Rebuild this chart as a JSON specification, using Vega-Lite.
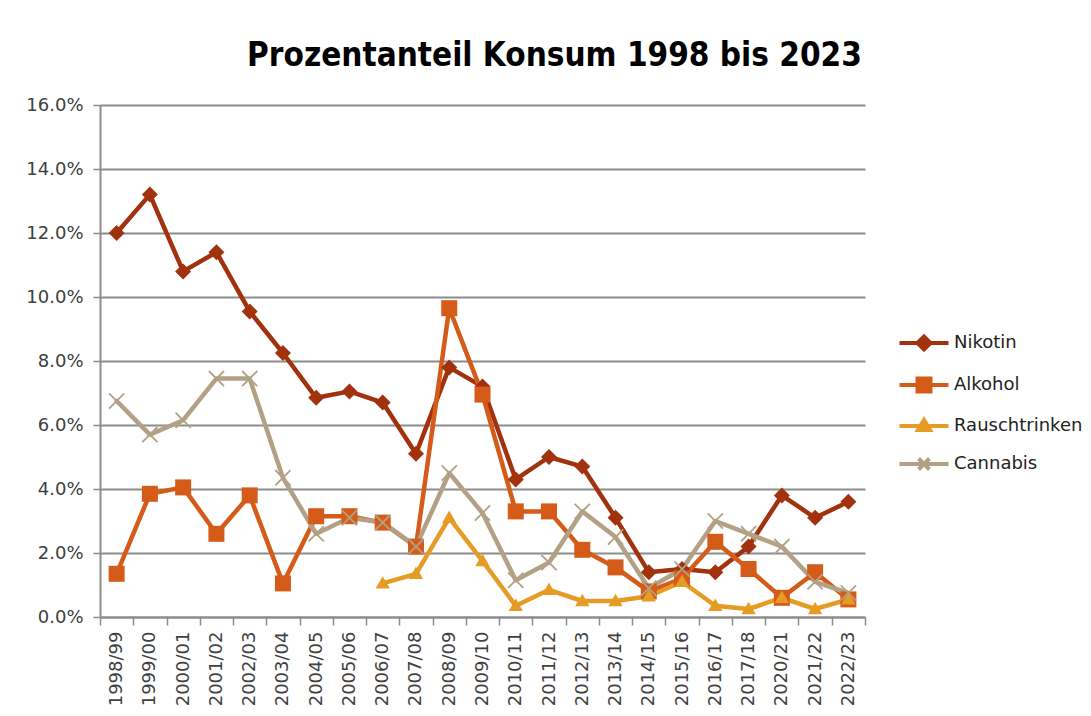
{
  "$schema": "https://vega.github.io/schema/vega-lite/v6.json",
  "autosize": {"type": "none"},
  "padding": {"left": 100, "top": 105, "right": 226, "bottom": 99},
  "width": 765,
  "height": 512,
  "background": "white",
  "title": {
    "text": "Prozentanteil Konsum 1998 bis 2023",
    "font": "DejaVu Sans Condensed, Liberation Sans Narrow, sans-serif",
    "fontSize": 33,
    "fontWeight": "bold",
    "color": "#000000",
    "anchor": "middle",
    "frame": "group",
    "baseline": "alphabetic",
    "offset": 41,
    "dx": 72,
    "dy": 44
  },
  "config": {
    "view": {"stroke": null},
    "font": "DejaVu Sans"
  },
  "data": {
    "values": [
      {"s": "1998/99", "series": "Nikotin", "v": 12.0},
      {"s": "1999/00", "series": "Nikotin", "v": 13.2},
      {"s": "2000/01", "series": "Nikotin", "v": 10.8},
      {"s": "2001/02", "series": "Nikotin", "v": 11.4},
      {"s": "2002/03", "series": "Nikotin", "v": 9.55},
      {"s": "2003/04", "series": "Nikotin", "v": 8.25},
      {"s": "2004/05", "series": "Nikotin", "v": 6.85},
      {"s": "2005/06", "series": "Nikotin", "v": 7.05},
      {"s": "2006/07", "series": "Nikotin", "v": 6.7},
      {"s": "2007/08", "series": "Nikotin", "v": 5.1},
      {"s": "2008/09", "series": "Nikotin", "v": 7.8},
      {"s": "2009/10", "series": "Nikotin", "v": 7.2},
      {"s": "2010/11", "series": "Nikotin", "v": 4.3},
      {"s": "2011/12", "series": "Nikotin", "v": 5.0},
      {"s": "2012/13", "series": "Nikotin", "v": 4.7},
      {"s": "2013/14", "series": "Nikotin", "v": 3.1},
      {"s": "2014/15", "series": "Nikotin", "v": 1.4},
      {"s": "2015/16", "series": "Nikotin", "v": 1.5},
      {"s": "2016/17", "series": "Nikotin", "v": 1.4},
      {"s": "2017/18", "series": "Nikotin", "v": 2.2},
      {"s": "2020/21", "series": "Nikotin", "v": 3.8},
      {"s": "2021/22", "series": "Nikotin", "v": 3.1},
      {"s": "2022/23", "series": "Nikotin", "v": 3.6},
      {"s": "1998/99", "series": "Alkohol", "v": 1.35},
      {"s": "1999/00", "series": "Alkohol", "v": 3.85},
      {"s": "2000/01", "series": "Alkohol", "v": 4.05},
      {"s": "2001/02", "series": "Alkohol", "v": 2.6},
      {"s": "2002/03", "series": "Alkohol", "v": 3.8},
      {"s": "2003/04", "series": "Alkohol", "v": 1.05},
      {"s": "2004/05", "series": "Alkohol", "v": 3.15},
      {"s": "2005/06", "series": "Alkohol", "v": 3.15},
      {"s": "2006/07", "series": "Alkohol", "v": 2.95},
      {"s": "2007/08", "series": "Alkohol", "v": 2.2},
      {"s": "2008/09", "series": "Alkohol", "v": 9.65},
      {"s": "2009/10", "series": "Alkohol", "v": 6.95},
      {"s": "2010/11", "series": "Alkohol", "v": 3.3},
      {"s": "2011/12", "series": "Alkohol", "v": 3.3},
      {"s": "2012/13", "series": "Alkohol", "v": 2.1},
      {"s": "2013/14", "series": "Alkohol", "v": 1.55},
      {"s": "2014/15", "series": "Alkohol", "v": 0.8},
      {"s": "2015/16", "series": "Alkohol", "v": 1.2},
      {"s": "2016/17", "series": "Alkohol", "v": 2.35},
      {"s": "2017/18", "series": "Alkohol", "v": 1.5},
      {"s": "2020/21", "series": "Alkohol", "v": 0.6},
      {"s": "2021/22", "series": "Alkohol", "v": 1.4},
      {"s": "2022/23", "series": "Alkohol", "v": 0.55},
      {"s": "2006/07", "series": "Rauschtrinken", "v": 1.05},
      {"s": "2007/08", "series": "Rauschtrinken", "v": 1.35},
      {"s": "2008/09", "series": "Rauschtrinken", "v": 3.1},
      {"s": "2009/10", "series": "Rauschtrinken", "v": 1.75},
      {"s": "2010/11", "series": "Rauschtrinken", "v": 0.35},
      {"s": "2011/12", "series": "Rauschtrinken", "v": 0.85},
      {"s": "2012/13", "series": "Rauschtrinken", "v": 0.5},
      {"s": "2013/14", "series": "Rauschtrinken", "v": 0.5},
      {"s": "2014/15", "series": "Rauschtrinken", "v": 0.65},
      {"s": "2015/16", "series": "Rauschtrinken", "v": 1.1},
      {"s": "2016/17", "series": "Rauschtrinken", "v": 0.35},
      {"s": "2017/18", "series": "Rauschtrinken", "v": 0.25},
      {"s": "2020/21", "series": "Rauschtrinken", "v": 0.6},
      {"s": "2021/22", "series": "Rauschtrinken", "v": 0.25},
      {"s": "2022/23", "series": "Rauschtrinken", "v": 0.55},
      {"s": "1998/99", "series": "Cannabis", "v": 6.75},
      {"s": "1999/00", "series": "Cannabis", "v": 5.7},
      {"s": "2000/01", "series": "Cannabis", "v": 6.15},
      {"s": "2001/02", "series": "Cannabis", "v": 7.45},
      {"s": "2002/03", "series": "Cannabis", "v": 7.45},
      {"s": "2003/04", "series": "Cannabis", "v": 4.35},
      {"s": "2004/05", "series": "Cannabis", "v": 2.6},
      {"s": "2005/06", "series": "Cannabis", "v": 3.1},
      {"s": "2006/07", "series": "Cannabis", "v": 2.95},
      {"s": "2007/08", "series": "Cannabis", "v": 2.2},
      {"s": "2008/09", "series": "Cannabis", "v": 4.5},
      {"s": "2009/10", "series": "Cannabis", "v": 3.25},
      {"s": "2010/11", "series": "Cannabis", "v": 1.15},
      {"s": "2011/12", "series": "Cannabis", "v": 1.7},
      {"s": "2012/13", "series": "Cannabis", "v": 3.3},
      {"s": "2013/14", "series": "Cannabis", "v": 2.5},
      {"s": "2014/15", "series": "Cannabis", "v": 0.9},
      {"s": "2015/16", "series": "Cannabis", "v": 1.5},
      {"s": "2016/17", "series": "Cannabis", "v": 3.0},
      {"s": "2017/18", "series": "Cannabis", "v": 2.6},
      {"s": "2020/21", "series": "Cannabis", "v": 2.2},
      {"s": "2021/22", "series": "Cannabis", "v": 1.1},
      {"s": "2022/23", "series": "Cannabis", "v": 0.75}
    ]
  },
  "encoding": {
    "x": {
      "field": "s",
      "type": "nominal",
      "sort": null,
      "scale": {"paddingInner": 0, "paddingOuter": 0},
      "axis": {
        "title": null,
        "labelAngle": -90,
        "labelAlign": "right",
        "labelBaseline": "middle",
        "labelFont": "DejaVu Sans",
        "labelFontSize": 18,
        "labelColor": "#404040",
        "labelPadding": 6,
        "tickBand": "extent",
        "tickSize": 8,
        "tickWidth": 1.5,
        "tickColor": "#8c8c8c",
        "domainColor": "#8c8c8c",
        "domainWidth": 2,
        "grid": false
      }
    },
    "y": {
      "field": "v",
      "type": "quantitative",
      "scale": {"domain": [0, 16], "nice": false},
      "axis": {
        "title": null,
        "values": [0, 2, 4, 6, 8, 10, 12, 14, 16],
        "labelExpr": "format(datum.value, '.1f') + '%'",
        "labelFont": "DejaVu Sans",
        "labelFontSize": 18,
        "labelColor": "#404040",
        "labelPadding": 10,
        "tickSize": 7,
        "tickWidth": 1.5,
        "tickColor": "#8c8c8c",
        "domainColor": "#8c8c8c",
        "domainWidth": 2,
        "grid": true,
        "gridColor": "#8c8c8c",
        "gridWidth": 2
      }
    }
  },
  "layer": [
    {
      "mark": {"type": "line", "strokeWidth": 4.5, "strokeJoin": "round", "strokeCap": "round"},
      "encoding": {
        "color": {
          "field": "series",
          "type": "nominal",
          "scale": {
            "domain": ["Nikotin", "Alkohol", "Rauschtrinken", "Cannabis"],
            "range": ["#A2310E", "#D55B19", "#E69C24", "#B3A185"]
          },
          "legend": {
            "title": null,
            "orient": "none",
            "legendX": 812,
            "legendY": 226,
            "symbolSize": 400,
            "rowPadding": 12,
            "labelOffset": 18,
            "labelFont": "DejaVu Sans",
            "labelFontSize": 18,
            "labelColor": "#222222",
            "labelLimit": 300,
            "encode": {
              "symbols": {
                "enter": {
                  "shape": {"signal": "datum.value === 'Nikotin' ? 'M-2.45,0L2.45,0M-0.65,0L0,-0.65L0.65,0L0,0.65Z' : datum.value === 'Alkohol' ? 'M-2.45,0L2.45,0M-0.65,-0.65L0.65,-0.65L0.65,0.65L-0.65,0.65Z' : datum.value === 'Rauschtrinken' ? 'M-2.45,0L2.45,0M-0.6,0.4L0,-0.6L0.6,0.4Z' : 'M-2.45,0L2.45,0M-0.55,-0.55L0.55,0.55M-0.55,0.55L0.55,-0.55'"}
                },
                "update": {
                  "shape": {"signal": "datum.value === 'Nikotin' ? 'M-2.45,0L2.45,0M-0.65,0L0,-0.65L0.65,0L0,0.65Z' : datum.value === 'Alkohol' ? 'M-2.45,0L2.45,0M-0.65,-0.65L0.65,-0.65L0.65,0.65L-0.65,0.65Z' : datum.value === 'Rauschtrinken' ? 'M-2.45,0L2.45,0M-0.6,0.4L0,-0.6L0.6,0.4Z' : 'M-2.45,0L2.45,0M-0.55,-0.55L0.55,0.55M-0.55,0.55L0.55,-0.55'"},
                  "fill": {"scale": "color", "field": "value"},
                  "stroke": {"scale": "color", "field": "value"},
                  "strokeWidth": {"value": 4},
                  "opacity": {"value": 1}
                }
              }
            }
          }
        }
      }
    },
    {
      "transform": [{"filter": "datum.series === 'Nikotin'"}],
      "mark": {"type": "point", "filled": true, "shape": "M-1,0L0,-1L1,0L0,1Z", "size": 256, "color": "#A2310E", "opacity": 1}
    },
    {
      "transform": [{"filter": "datum.series === 'Alkohol'"}],
      "mark": {"type": "point", "filled": true, "shape": "M-1,-1L1,-1L1,1L-1,1Z", "size": 256, "color": "#D55B19", "opacity": 1}
    },
    {
      "transform": [{"filter": "datum.series === 'Rauschtrinken'"}],
      "mark": {"type": "point", "filled": true, "shape": "M-0.9,0.65L0,-0.9L0.9,0.65Z", "size": 256, "color": "#E69C24", "opacity": 1}
    },
    {
      "transform": [{"filter": "datum.series === 'Cannabis'"}],
      "mark": {"type": "point", "filled": false, "shape": "M-0.95,-0.95L0.95,0.95M-0.95,0.95L0.95,-0.95", "size": 256, "color": "#B3A185", "strokeWidth": 1.8, "opacity": 1}
    }
  ]
}
